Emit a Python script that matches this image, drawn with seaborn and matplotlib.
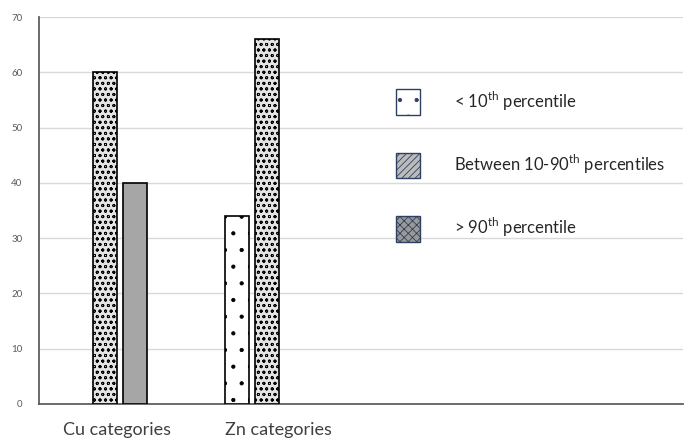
import numpy as np
import pandas as pd
import seaborn as sns
import matplotlib.pyplot as plt
import matplotlib.transforms as mtransforms
from matplotlib.patches import Patch

categorias = ["Cu categories", "Zn categories"]
niveles = ["< 10th percentile", "Between 10-90th percentiles", "> 90th percentile"]
etiquetas_leyenda = [r"< 10$^{\mathregular{th}}$ percentile",
                     r"Between 10-90$^{\mathregular{th}}$ percentiles",
                     r"> 90$^{\mathregular{th}}$ percentile"]
bajo_10 = [np.nan, 34]
entre_10_90 = [60, 66]
sobre_90 = [40, np.nan]

filas = []
for nivel, valores in zip(niveles, [bajo_10, entre_10_90, sobre_90]):
    for cat, v in zip(categorias, valores):
        filas.append({'Categoria': cat, 'Nivel': nivel, 'Valor': v})
df = pd.DataFrame(filas)

sns.set_theme(style="white")
plt.rcParams['font.family'] = ['Lato', 'DejaVu Sans']
plt.rcParams['hatch.linewidth'] = 0.6

fig = plt.figure(figsize=(6.84, 4.41), dpi=100)
ax = fig.add_axes([0.057, 0.084, 0.941, 0.877])

colores = ['white', '#e4e4e4', '#a6a6a6']
sns.barplot(data=df, x='Categoria', y='Valor', hue='Nivel', order=categorias,
            hue_order=niveles, palette=colores, width=0.556, gap=0.2,
            edgecolor='black', linewidth=1.2, saturation=1, legend=False, ax=ax, zorder=3)

# tramas de cada serie (color de trama gris si la version lo permite)
tramas = ['.', 'ooo', '']
color_trama = ['#555555', '#888888', 'black']
for cont, trama, ct in zip(ax.containers, tramas, color_trama):
    for barra in cont:
        barra.set_hatch(trama)
        if hasattr(barra, 'set_hatchcolor'):
            barra.set_hatchcolor(ct)

ax.set_ylim(0, 70)
ax.set_yticks(range(0, 71, 10))
ax.set_xlim(-0.407, 3.57)
ax.yaxis.grid(True, color='#d9d9d9', linewidth=1)
ax.set_axisbelow(True)
for s in ['top', 'right']:
    ax.spines[s].set_visible(False)
ax.spines['left'].set_color('#595959')
ax.spines['bottom'].set_color('#595959')
ax.set_xlabel('')
ax.set_ylabel('')
ax.tick_params(axis='y', labelsize=7, labelcolor='#595959', length=0, pad=12)
ax.tick_params(axis='x', labelsize=13, labelcolor='#404040', length=0, pad=13)
desplaz = mtransforms.ScaledTranslation(12 / 100, 0, fig.dpi_scale_trans)
for lab in ax.get_xticklabels():
    lab.set_transform(lab.get_transform() + desplaz)

# Leyenda
manijas = [Patch(facecolor='white', edgecolor='#2f3f5f', hatch='.'),
           Patch(facecolor='#bbbbbb', edgecolor='#2f3f5f', hatch='/////'),
           Patch(facecolor='#999999', edgecolor='#2f3f5f', hatch='xxxx')]
ax.legend(manijas, etiquetas_leyenda, loc='upper left', bbox_to_anchor=(0.542, 0.835),
          frameon=False, fontsize=12, handlelength=1.45, handleheight=2.0,
          handletextpad=2.0, labelspacing=2.25, borderpad=0)

fig.savefig('out.png', dpi=100)
